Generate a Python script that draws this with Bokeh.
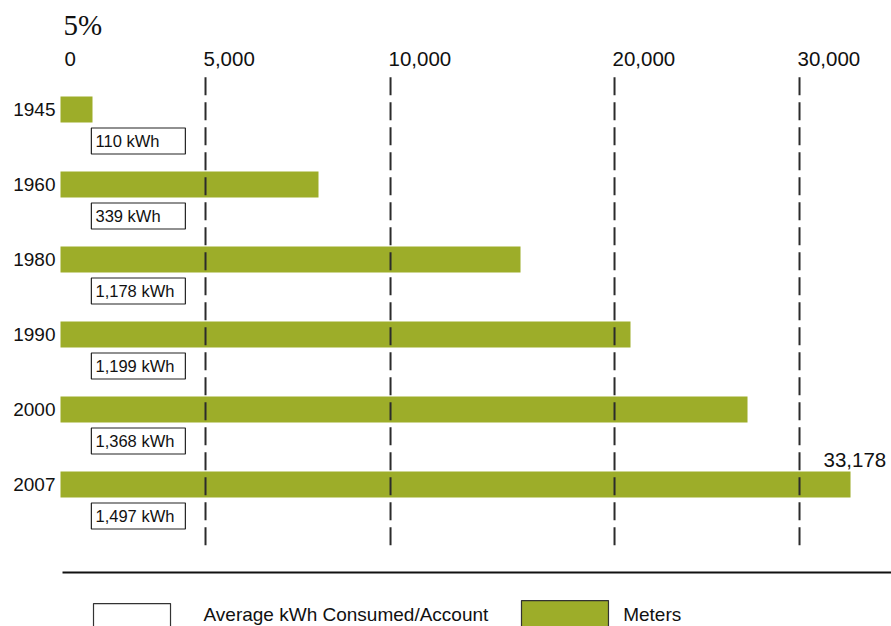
from bokeh.plotting import figure
from bokeh.models import ColumnDataSource, Range1d
from bokeh.core.properties import value
from bokeh.embed import file_html
from bokeh.resources import INLINE

# ---- data ----
years = ["1945", "1960", "1980", "1990", "2000", "2007"]
meters = [1344, 10835, 19319, 23938, 28852, 33178]
kwh_labels = ["110 kWh", "339 kWh", "1,178 kWh", "1,199 kWh", "1,368 kWh", "1,497 kWh"]
tick_labels = ["0", "5,000", "10,000", "20,000", "30,000"]
grid_positions = [6090, 13860, 23267, 31036]   # where the chart's dashed lines sit
tick_positions = [0] + grid_positions
last_label = "33,178"

GREEN = "#9DAD29"
FONT = "Liberation Sans"

idx = list(range(len(years)))

p = figure(width=891, height=626, output_backend="svg", toolbar_location=None,
           x_axis_type=None, y_axis_type=None,
           x_range=Range1d(-2520, 34899), y_range=Range1d(6.8933, -1.4533),
           min_border=0, outline_line_color=None)
p.xgrid.visible = False
p.ygrid.visible = False

# title "5%"
p.text(x=[0], y=[-1.12], text=["5%"], x_offset=3, text_align="left",
       text_baseline="middle", text_font=value("Liberation Serif"),
       text_font_size="29px", text_color="#111111")

# top tick labels
tsrc = ColumnDataSource(dict(x=tick_positions, t=tick_labels, dx=[4, -2, -2, -2, -2]))
p.text(x="x", y=-0.667, text="t", x_offset="dx", source=tsrc, text_align="left",
       text_baseline="middle", text_font=value(FONT), text_font_size="20.5px",
       text_color="#111111")

# bars
bsrc = ColumnDataSource(dict(y=idx, right=meters, year=years,
                             ky=[i + 0.42 for i in idx], klab=kwh_labels))
p.hbar(y="y", left=0, right="right", height=0.347, source=bsrc,
       fill_color=GREEN, line_color=None)

# dashed lines
p.segment(x0=grid_positions, y0=-0.43, x1=grid_positions, y1=5.853,
          line_color="#2b2b2b", line_width=2, line_dash="18 7")

# year labels
p.text(x=0, y="y", text="year", source=bsrc, x_offset=-5, text_align="right",
       text_baseline="middle", text_font=value(FONT), text_font_size="19px",
       text_color="#111111")

# kWh boxes
p.rect(x=3270, y="ky", width=94, height=26, width_units="screen", height_units="screen",
       source=bsrc, fill_color="white", line_color="#222222", line_width=1.2)
p.text(x=0, y="ky", text="klab", source=bsrc, x_offset=35, text_align="left",
       text_baseline="middle", text_font=value(FONT), text_font_size="16.5px",
       text_color="#111111")

# value label of last bar
p.text(x=[meters[-1]], y=[idx[-1] - 0.33], text=[last_label], x_offset=-27,
       text_align="left", text_baseline="middle", text_font=value(FONT),
       text_font_size="20.5px", text_color="#111111")

# horizontal rule
p.segment(x0=[84], y0=[6.173], x1=[40000], y1=[6.173], line_color="#111111", line_width=2)

# legend
p.quad(left=[1386], right=[4620], top=[6.587], bottom=[7.2],
       fill_color="white", line_color="#333333", line_width=1.2)
p.quad(left=[19360], right=[23013], top=[6.547], bottom=[7.2],
       fill_color=GREEN, line_color="#333333", line_width=1.2)
p.text(x=[6006, 23630], y=[6.733, 6.733], text=["Average kWh Consumed/Account", "Meters"],
       text_align="left", text_baseline="middle", text_font=value(FONT),
       text_font_size="19px", text_color="#111111")

open("out.html", "w").write(file_html(p, INLINE))
